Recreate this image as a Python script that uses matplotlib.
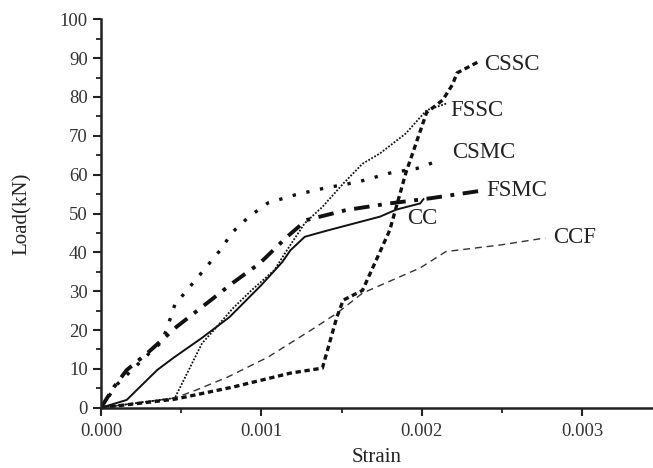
import matplotlib
matplotlib.use("Agg")
import matplotlib.pyplot as plt
from matplotlib.ticker import MultipleLocator, FormatStrFormatter

plt.rcParams['font.family'] = ['Liberation Serif', 'DejaVu Serif']

# ---- data (strain, load kN) ----
cc_x = [0, 0.00016, 0.00035, 0.00045, 0.00063, 0.0008, 0.001, 0.00113, 0.00118,
        0.00127, 0.0014, 0.00174, 0.00184, 0.00199, 0.00201]
cc_y = [0, 2, 9.7, 12.8, 18, 23.3, 31.6, 37.5, 40.5, 44, 45.5, 49.2, 51, 52.6, 53.7]

fsmc_x = [0, 0.00008, 0.00016, 0.00029, 0.00047, 0.00066, 0.00082, 0.00099, 0.00116,
          0.00128, 0.00153, 0.0018, 0.00205, 0.00236]
fsmc_y = [0, 5.3, 9.7, 14.1, 20.8, 26.9, 32.1, 37.2, 44, 48.3, 50.9, 52.6, 53.9, 55.8]

csmc_x = [0, 0.0001, 0.0003, 0.00038, 0.00042, 0.00046, 0.0006, 0.00074, 0.00082,
          0.00092, 0.00104, 0.00121, 0.00139, 0.0016, 0.0018, 0.00197, 0.00211]
csmc_y = [0, 6, 14, 17, 21.5, 26.5, 33.4, 40.4, 45.2, 49.1, 52.7, 54.8, 56.5, 58.1,
          60.4, 61.6, 63.7]

fssc_x = [0, 0.00046, 0.00063, 0.0007, 0.00082, 0.00094, 0.00108, 0.00116, 0.00127,
          0.00138, 0.00151, 0.00163, 0.00174, 0.0019, 0.00203, 0.00216]
fssc_y = [0, 2.5, 16.6, 19.8, 25.5, 30.3, 35.4, 40.6, 47.5, 51.7, 57.7, 62.8, 65.5,
          70.6, 76.6, 78.4]

cssc_x = [0, 0.00046, 0.00082, 0.00118, 0.00138, 0.00147, 0.00151, 0.00163, 0.0018,
          0.0019, 0.00203, 0.00213, 0.00219, 0.00222, 0.00235]
cssc_y = [0, 2.2, 5.3, 8.9, 10.2, 23.3, 27.7, 30.2, 45.7, 60.4, 76.0, 79.2, 83.1,
          86.2, 89]

ccf_x = [0, 0.00046, 0.00059, 0.00079, 0.00104, 0.00131, 0.00147, 0.00163, 0.00199,
         0.00215, 0.00249, 0.00277]
ccf_y = [0, 2.5, 4.5, 7.9, 13, 20, 24.3, 29.5, 36, 40.2, 41.9, 43.7]

labels = ["CSSC", "FSSC", "CSMC", "FSMC", "CC", "CCF"]
label_x = [0.00239, 0.002175, 0.00219, 0.0024, 0.00191, 0.00282]
label_y = [88.4, 76.6, 65.6, 56.0, 48.8, 43.7]

fig = plt.figure(figsize=(6.53, 4.68), dpi=100)
ax = fig.add_axes([0.1547, 0.1288, 0.845, 0.83])

ax.plot(ccf_x, ccf_y, color='#333333', lw=1.0, linestyle=(0, (5, 3.5)))
ax.plot(cssc_x, cssc_y, color='#111111', lw=2.4, linestyle=(0, (1.6, 1.1)))
ax.plot(fssc_x, fssc_y, color='#111111', lw=1.3, linestyle=(0, (1, 0.9)))
ax.plot(csmc_x, csmc_y, color='#111111', lw=2.4, linestyle=(0, (1, 3.2)))
ax.plot(cc_x, cc_y, color='#111111', lw=1.4, linestyle='-')
ax.plot(fsmc_x, fsmc_y, color='#111111', lw=2.8, linestyle=(0, (4, 2.2, 1, 2.2)))

for t, x, y in zip(labels, label_x, label_y):
    ax.text(x, y, t, fontsize=16.5, va='center', ha='left', color='#222222')

ax.set_xlim(0, 0.00344)
ax.set_ylim(0, 100)
ax.xaxis.set_major_locator(MultipleLocator(0.001))
ax.xaxis.set_minor_locator(MultipleLocator(0.0005))
ax.xaxis.set_major_formatter(FormatStrFormatter('%.3f'))
ax.yaxis.set_major_locator(MultipleLocator(10))
ax.yaxis.set_minor_locator(MultipleLocator(5))

for s in ['top', 'right']:
    ax.spines[s].set_visible(False)
for s in ['left', 'bottom']:
    ax.spines[s].set_linewidth(1.8)
    ax.spines[s].set_color('#222222')

ax.tick_params(which='major', direction='out', length=6, width=1.5, labelsize=13.5,
               colors='#222222', labelcolor='#333333')
ax.tick_params(axis='x', which='major', pad=5)
ax.tick_params(which='minor', direction='out', length=3.5, width=1.3, colors='#222222')

ax.set_xlabel('Strain', fontsize=15, color='#222222', labelpad=6)
ax.set_ylabel('Load(kN)', fontsize=15, color='#222222', labelpad=20)

fig.savefig('out.png', dpi=100)
